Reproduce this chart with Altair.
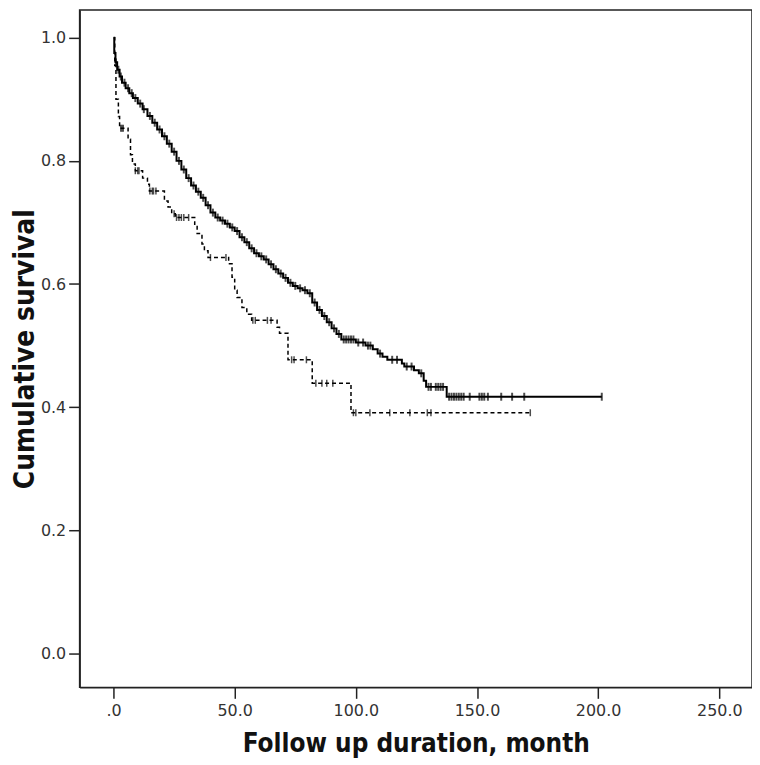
import altair as alt
import pandas as pd

# Kaplan-Meier step points (time in months, cumulative survival)
solid_t = [0, 0.3, 0.8, 1.5, 2.5, 3.5, 5, 6.5, 8, 10, 12, 14, 16, 18, 20, 22, 24, 26, 28, 30,
           32, 34, 36, 38, 40, 42, 44, 46, 48, 50, 52, 54, 56, 58, 60, 62, 64, 66, 68, 70,
           72, 74, 76, 78, 80, 82, 84, 86, 88, 90, 92, 94, 100, 104, 107, 109, 111, 113, 119,
           120, 124, 126, 128, 129, 137.5, 201.5]
solid_s = [1.0, 0.975, 0.96, 0.948, 0.937, 0.927, 0.918, 0.91, 0.902, 0.893, 0.884, 0.873, 0.862,
           0.851, 0.84, 0.828, 0.815, 0.8, 0.786, 0.772, 0.76, 0.75, 0.74, 0.728, 0.716, 0.708,
           0.703, 0.698, 0.692, 0.686, 0.676, 0.668, 0.658, 0.65, 0.645, 0.64, 0.632, 0.624,
           0.617, 0.61, 0.602, 0.597, 0.593, 0.59, 0.585, 0.57, 0.558, 0.548, 0.538, 0.528,
           0.519, 0.51, 0.505, 0.5, 0.494, 0.487, 0.482, 0.477, 0.471, 0.466, 0.46, 0.455,
           0.443, 0.433, 0.417, 0.417]

dashed_t = [0, 0.5, 1, 2, 2.5, 6, 7, 7.8, 9, 12, 14, 14.8, 21, 22.5, 24, 25.5, 33.5, 34.5, 36.5,
            37.5, 39, 47.5, 48.9, 50, 51, 53, 55, 57, 67.5, 68.5, 72, 82, 98, 172]
dashed_s = [1.0, 0.955, 0.9, 0.872, 0.853, 0.835, 0.81, 0.795, 0.784, 0.772, 0.762, 0.751, 0.735,
            0.725, 0.714, 0.708, 0.695, 0.682, 0.665, 0.654, 0.643, 0.633, 0.611, 0.59, 0.578,
            0.562, 0.551, 0.541, 0.53, 0.52, 0.477, 0.439, 0.391, 0.391]

# censoring times
solid_censor = [1.0, 2.0, 3.0, 4.5, 6, 7.5, 9, 11, 12.5, 15, 17, 19, 21, 23, 25, 27, 29, 31, 33,
                35, 37, 39, 41, 43, 45, 47, 49, 51, 53, 55, 57, 59, 61, 63, 65, 67, 69, 71, 73,
                75, 77, 79, 81, 83, 85, 87, 89, 91, 93, 95, 96, 97, 98, 99, 101, 103, 105, 106,
                110, 115, 117, 121, 123, 127, 130, 131, 133, 134, 135, 136, 138.5, 139.5, 140.5,
                141.5, 142.5, 143.5, 144.5, 147, 151, 152, 153, 154.5, 160, 164.5, 169.5, 201.5]
dashed_censor = [3, 3.5, 4, 9, 10, 10.5, 15, 16, 16.5, 17.5, 25, 26, 27, 28, 29, 31, 40, 46.4,
                 57.5, 58.5, 63.5, 65, 73.5, 74.5, 79.6, 83.5, 86, 88, 90.5, 99, 100, 105.8, 114,
                 122.3, 129.5, 131, 172]

x_ticks = [0, 50, 100, 150, 200, 250]
y_ticks = [0.0, 0.2, 0.4, 0.6, 0.8, 1.0]


def surv_at(ts, ss, t):
    v = ss[0]
    for ti, si in zip(ts, ss):
        if ti <= t:
            v = si
    return v


curve = pd.DataFrame(
    {"t": solid_t + dashed_t, "s": solid_s + dashed_s,
     "g": ["a"] * len(solid_t) + ["b"] * len(dashed_t)}
)
cens = pd.DataFrame(
    {"t": solid_censor + dashed_censor,
     "s": [surv_at(solid_t, solid_s, t) for t in solid_censor]
     + [surv_at(dashed_t, dashed_s, t) for t in dashed_censor],
     "g": ["a"] * len(solid_censor) + ["b"] * len(dashed_censor)}
)

xs = alt.Scale(domain=[-14, 263.5], nice=False, zero=False)
ys = alt.Scale(domain=[-0.055, 1.045], nice=False, zero=False)

x_axis = alt.Axis(values=x_ticks, title="Follow up duration, month",
                  labelExpr="datum.value == 0 ? '.0' : format(datum.value, '.1f')",
                  grid=False, tickSize=11, tickWidth=1.5, tickColor="#222",
                  domainColor="#222", domainWidth=1.5,
                  labelFont="DejaVu Sans", labelFontSize=16, labelColor="#333",
                  labelPadding=4, titleFont="DejaVu Sans Condensed", titleFontSize=26,
                  titleFontWeight="bold", titleColor="#111", titlePadding=12)
y_axis = alt.Axis(values=y_ticks, title="Cumulative survival", format=".1f",
                  grid=False, tickSize=11, tickWidth=1.5, tickColor="#222",
                  domainColor="#222", domainWidth=1.5,
                  labelFont="DejaVu Sans", labelFontSize=16, labelColor="#333",
                  labelPadding=3, titleFont="DejaVu Sans Condensed", titleFontSize=28,
                  titleFontWeight="bold", titleColor="#111", titlePadding=1)

solid_line = alt.Chart(curve).transform_filter("datum.g == 'a'").mark_line(
    interpolate="step-after", color="black", strokeWidth=2
).encode(x=alt.X("t:Q", scale=xs, axis=x_axis), y=alt.Y("s:Q", scale=ys, axis=y_axis))

dashed_line = alt.Chart(curve).transform_filter("datum.g == 'b'").mark_line(
    interpolate="step-after", color="black", strokeWidth=1.5, strokeDash=[4, 3]
).encode(x=alt.X("t:Q", scale=xs), y=alt.Y("s:Q", scale=ys))

solid_ticks = alt.Chart(cens).transform_filter("datum.g == 'a'").mark_tick(
    orient="vertical", color="black", size=8, thickness=2
).encode(x=alt.X("t:Q", scale=xs), y=alt.Y("s:Q", scale=ys))

dashed_ticks = alt.Chart(cens).transform_filter("datum.g == 'b'").mark_tick(
    orient="vertical", color="black", size=7, thickness=1.5
).encode(x=alt.X("t:Q", scale=xs), y=alt.Y("s:Q", scale=ys))

chart = alt.layer(solid_line, dashed_line, solid_ticks, dashed_ticks).properties(
    width=676, height=681,
    autosize=alt.AutoSizeParams(type="none"),
    padding={"left": 72, "top": 0, "right": 0, "bottom": 72},
    background="white",
).configure_view(stroke="#222", strokeWidth=1.5)

chart.save("out.html", embed_options={"renderer": "svg", "actions": False})
